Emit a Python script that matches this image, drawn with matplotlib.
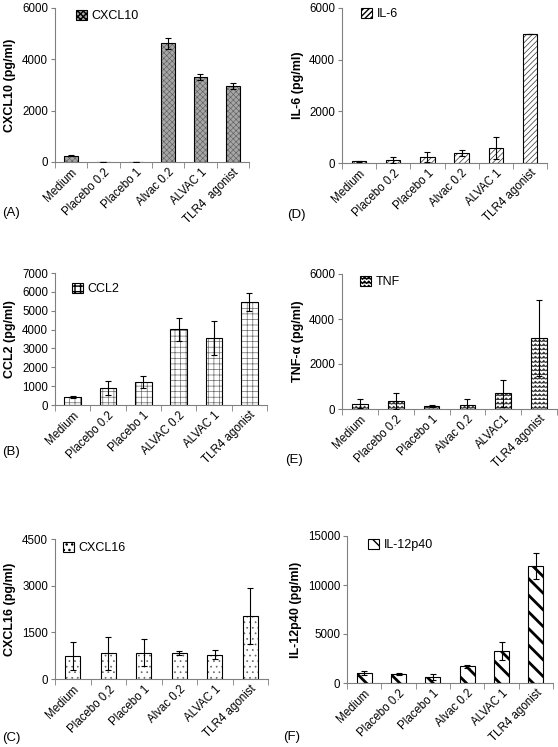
import warnings
import numpy as np
import matplotlib
matplotlib.use("Agg")
import matplotlib.pyplot as plt
import matplotlib.transforms as mtransforms
from matplotlib import hatch as mhatch
from matplotlib.path import Path
from matplotlib.patches import Patch

# 'z' is not a stock hatch letter, matplotlib only warns about it
warnings.filterwarnings("ignore")

plt.rcParams["font.family"] = ["Liberation Sans", "DejaVu Sans"]

## DATA (pg/ml, means and error bars)

cxcl10_labels = ["Medium", "Placebo 0.2", "Placebo 1", "Alvac 0.2", "ALVAC 1", "TLR4  agonist"]
cxcl10_mean = [248, 10, 10, 4630, 3300, 2950]
cxcl10_err = [30, 5, 5, 220, 120, 120]

il6_labels = ["Medium", "Placebo 0.2", "Placebo 1", "Alvac 0.2", "ALVAC 1", "TLR4 agonist"]
il6_mean = [65, 120, 230, 390, 580, 5000]
il6_err = [15, 120, 190, 110, 430, 0]

ccl2_labels = ["Medium", "Placebo 0.2", "Placebo 1", "ALVAC 0.2", "ALVAC 1", "TLR4 agonist"]
ccl2_mean = [420, 910, 1220, 4020, 3560, 5480]
ccl2_err = [60, 370, 300, 610, 910, 480]

tnf_labels = ["Medium", "Placebo 0.2", "Placebo 1", "Alvac 0.2", "ALVAC1", "TLR4 agonist"]
tnf_mean = [240, 370, 150, 190, 690, 3160]
tnf_err = [190, 350, 40, 270, 600, 1690]

cxcl16_labels = ["Medium", "Placebo 0,2", "Placebo 1", "Alvac 0,2", "ALVAC 1", "TLR4 agonist"]
cxcl16_mean = [750, 820, 850, 840, 785, 2010]
cxcl16_err = [450, 515, 420, 65, 150, 900]

il12_labels = ["Medium", "Placebo 0.2", "Placebo 1", "Alvac 0.2", "ALVAC 1", "TLR4 agonist"]
il12_mean = [985, 915, 610, 1700, 3220, 11980]
il12_err = [200, 100, 340, 170, 920, 1320]


## zigzag hatch for the TNF bars

class ZigzagHatch(mhatch.HatchPatternBase):
    def __init__(self, hatch, density):
        self.num_lines = int(hatch.count("z") * density)
        self.num_vertices = self.num_lines * (2 * self.num_lines + 1)

    def set_vertices_and_codes(self, vertices, codes):
        n = self.num_lines
        per = 2 * n + 1
        xs = np.linspace(0, 1, per)
        bump = (np.arange(per) % 2) * 0.5 / n
        for i in range(n):
            vertices[i * per:(i + 1) * per, 0] = xs
            vertices[i * per:(i + 1) * per, 1] = i / n + bump
            codes[i * per] = Path.MOVETO
            codes[i * per + 1:(i + 1) * per] = Path.LINETO


mhatch._hatch_types.append(ZigzagHatch)

AXIS_GREY = "#808080"


def set_hatch_lw(patch, lw):
    if hasattr(patch, "set_hatch_linewidth"):
        patch.set_hatch_linewidth(lw)


def draw_panel(ax, labels, means, errs, ylabel, ymax, ystep, face, hatch, hatch_color,
               hatch_lw, bar_w, name, legend_xy, xmax=5.5):
    x = np.arange(len(labels))

    with plt.rc_context({"hatch.linewidth": hatch_lw}):
        fill = ax.bar(x, means, bar_w, color=face, edgecolor=hatch_color, hatch=hatch,
                      linewidth=0, zorder=2)
        handle = Patch(facecolor=face, edgecolor="black", hatch=hatch, linewidth=0.8)
    for b in fill:
        set_hatch_lw(b, hatch_lw)
    set_hatch_lw(handle, hatch_lw)

    ax.bar(x, means, bar_w, fill=False, edgecolor="black", linewidth=0.8, zorder=3)
    ax.errorbar(x, means, yerr=errs, fmt="none", ecolor="black", elinewidth=0.8,
                capsize=2.5, capthick=0.8, zorder=4)

    ax.set_xlim(-0.5, xmax)
    ax.set_ylim(0, ymax)
    ax.set_yticks(np.arange(0, ymax + 1, ystep))
    ax.set_xticks(x)
    ax.set_xticks(np.arange(-0.5, len(labels), 1.0), minor=True)
    shift = mtransforms.ScaledTranslation(6 / 100, 0, ax.figure.dpi_scale_trans)
    ax.set_xticklabels(labels, rotation=45, ha="right", va="top", rotation_mode="anchor",
                       fontsize=8.3)
    for t in ax.get_xticklabels():
        t.set_transform(t.get_transform() + shift)

    for side in ("top", "right"):
        ax.spines[side].set_visible(False)
    for side in ("left", "bottom"):
        ax.spines[side].set_color(AXIS_GREY)
        ax.spines[side].set_linewidth(0.8)
    ax.tick_params(axis="y", length=3, color=AXIS_GREY, labelsize=8.3, pad=2)
    ax.tick_params(axis="x", which="major", length=0, pad=3)
    ax.tick_params(axis="x", which="minor", length=4, color=AXIS_GREY)

    ax.set_ylabel(ylabel, fontsize=9, fontweight="bold", labelpad=4)
    ax.legend(handles=[handle], labels=[name], loc="upper left", bbox_to_anchor=legend_xy,
              frameon=False, borderpad=0, borderaxespad=0, handlelength=0.85,
              handleheight=0.85, handletextpad=0.4, fontsize=9)


W, H = 558, 747
fig = plt.figure(figsize=(W / 100, H / 100), dpi=100)


def axes_px(left, right, top, bottom):
    return fig.add_axes([left / W, 1 - bottom / H, (right - left) / W, (bottom - top) / H])


ax_a = axes_px(55, 249, 8, 162)
ax_d = axes_px(342, 547, 8, 163)
ax_b = axes_px(55, 267, 273, 405)
ax_e = axes_px(342, 557, 274, 409)
ax_c = axes_px(55, 268, 539, 679)
ax_f = axes_px(347, 553, 536, 683)

draw_panel(ax_a, cxcl10_labels, cxcl10_mean, cxcl10_err, "CXCL10 (pg/ml)", 6000, 2000,
           "#a6a6a6", "xxxxxx", "#5a5a5a", 0.4, 0.43, "CXCL10", (0.108, 0.99))
draw_panel(ax_d, il6_labels, il6_mean, il6_err, "IL-6 (pg/ml)", 6000, 2000,
           "white", "//////", "#333333", 0.5, 0.42, "IL-6", (0.093, 1.0), xmax=5.19)
draw_panel(ax_b, ccl2_labels, ccl2_mean, ccl2_err, "CCL2 (pg/ml)", 7000, 1000,
           "white", "+++", "#6a6a6a", 0.5, 0.47, "CCL2", (0.08, 0.925))
draw_panel(ax_e, tnf_labels, tnf_mean, tnf_err, "TNF-α (pg/ml)", 6000, 2000,
           "white", "zzzz", "#333333", 0.6, 0.44, "TNF", (0.084, 0.985))
draw_panel(ax_c, cxcl16_labels, cxcl16_mean, cxcl16_err, "CXCL16 (pg/ml)", 4500, 1500,
           "white", "...", "#666666", 0.5, 0.42, "CXCL16", (0.038, 0.98))
draw_panel(ax_f, il12_labels, il12_mean, il12_err, "IL-12p40 (pg/ml)", 15000, 5000,
           "white", "\\\\", "black", 2.0, 0.44, "IL-12p40", (0.102, 0.98))

# panel letters
for tag, px, py in [("(A)", 2, 213), ("(D)", 287, 215), ("(B)", 2, 452),
                    ("(E)", 285, 460), ("(C)", 2, 738), ("(F)", 283, 737)]:
    fig.text(px / W, 1 - py / H, tag, fontsize=9.5, ha="left", va="center")

fig.savefig("out.png", dpi=100)
